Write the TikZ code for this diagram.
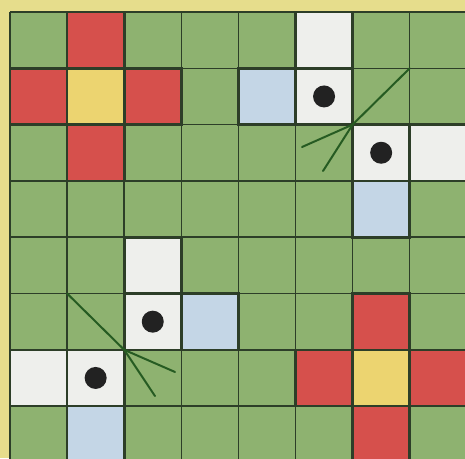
\documentclass[tikz,border=0pt]{standalone}
\definecolor{bgyellow}{RGB}{230,221,140}
\definecolor{cellgreen}{RGB}{142,178,112}
\definecolor{cellred}{RGB}{214,80,76}
\definecolor{cellyellow}{RGB}{236,212,112}
\definecolor{cellwhite}{RGB}{238,239,236}
\definecolor{cellblue}{RGB}{196,214,230}
\definecolor{gridline}{RGB}{45,62,40}
\definecolor{dotcol}{RGB}{34,34,34}
\tikzset{
  cellbox/.style={draw=gridline, line width=2.6pt, line join=miter},
  thingrid/.style={draw=gridline, line width=1.5pt},
  viewline/.style={draw=gridline!85!green, line width=2pt, line cap=round},
  marker/.style={fill=dotcol}
}
\begin{document}
\begin{tikzpicture}[x=57.1pt,y=-56.3pt]
\useasboundingbox (-0.17513,-0.21314) rectangle (7.9685,7.9218);
\clip (-0.17513,-0.21314) rectangle (7.9685,7.9218);
\fill[bgyellow] (-0.17513,-0.21314) rectangle (7.9685,7.9218);
\fill[cellgreen] (0,0) rectangle (9,9);
\foreach \i in {0,...,9} {
  \draw[thingrid] (\i,0) -- (\i,9);
  \draw[thingrid] (0,\i) -- (9,\i);
}
% red crosses
\foreach \c/\r/\col in {1/0/cellred,0/1/cellred,2/1/cellred,1/2/cellred,1/1/cellyellow,
                        6/5/cellred,5/6/cellred,7/6/cellred,6/7/cellred,6/6/cellyellow,
                        5/0/cellwhite,4/1/cellblue,5/1/cellwhite,6/2/cellwhite,7/2/cellwhite,6/3/cellblue,
                        2/4/cellwhite,2/5/cellwhite,3/5/cellblue,0/6/cellwhite,1/6/cellwhite,1/7/cellblue}
  \filldraw[cellbox, fill=\col] (\c,\r) rectangle ++(1,1);
% dots
\fill[marker] (5.5,1.5) circle[radius=11pt];
\fill[marker] (6.5,2.5) circle[radius=11pt];
\fill[marker] (2.5,5.5) circle[radius=11pt];
\fill[marker] (1.5,6.5) circle[radius=11pt];
% view lines top right
\coordinate (p) at (6,2);
\coordinate (pa) at (7,1);
\coordinate (pb) at (5.114,2.398);
\coordinate (pc) at (5.482,2.824);
\draw[viewline] (pa) -- (p) -- (pb);
\draw[viewline] (p) -- (pc);
% view lines bottom left
\coordinate (q) at (2,6);
\coordinate (qa) at (1,5);
\coordinate (qb) at (2.890,6.394);
\coordinate (qc) at (2.539,6.821);
\draw[viewline] (qa) -- (q) -- (qb);
\draw[viewline] (q) -- (qc);
\end{tikzpicture}
\end{document}
